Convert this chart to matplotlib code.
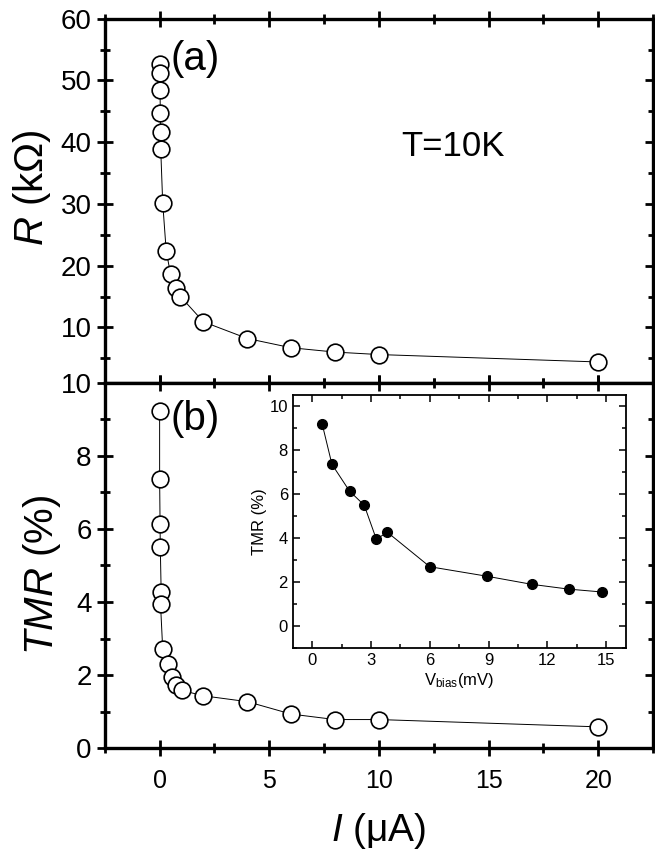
import matplotlib
matplotlib.use("Agg")
import matplotlib.pyplot as plt
from matplotlib.ticker import MultipleLocator

plt.rcParams['font.family'] = ['Liberation Sans', 'DejaVu Sans']
plt.rcParams['mathtext.fontset'] = 'custom'
plt.rcParams['mathtext.rm'] = 'Liberation Sans'
plt.rcParams['mathtext.it'] = 'Liberation Sans:italic'

# Panel (a): resistance vs current
I_a = [0.0, 0.01, 0.02, 0.03, 0.04, 0.05, 0.14, 0.3, 0.5, 0.75, 0.95, 2, 4, 6, 8, 10, 20]
R_a = [52.7, 51.2, 48.4, 44.8, 41.7, 38.9, 30.2, 22.4, 18.6, 16.4, 15.0, 10.9, 8.2, 6.7, 6.0, 5.6, 4.4]

# Panel (b): TMR vs current
I_b = [0.0, 0.0, 0.02, 0.03, 0.07, 0.04, 0.14, 0.37, 0.55, 0.73, 1.0, 2, 4, 6, 8, 10, 20]
TMR_b = [9.23, 7.38, 6.14, 5.52, 4.28, 3.95, 2.72, 2.30, 1.95, 1.72, 1.58, 1.43, 1.27, 0.93, 0.78, 0.78, 0.58]

# Inset: TMR vs bias voltage
V_bias = [0.5, 1.0, 1.9, 2.65, 3.27, 3.83, 6.0, 8.9, 11.2, 13.1, 14.8]
TMR_v = [9.2, 7.36, 6.14, 5.5, 3.95, 4.27, 2.7, 2.27, 1.9, 1.68, 1.55]

fig = plt.figure(figsize=(6.55, 8.51), dpi=100)
L, Rr = 0.160, 0.997
axa = fig.add_axes([L, 0.550, Rr - L, 0.978 - 0.550])
axb = fig.add_axes([L, 0.121, Rr - L, 0.550 - 0.121], sharex=axa)

mk = dict(marker='o', markersize=12, markerfacecolor='white', markeredgecolor='black',
          markeredgewidth=1.2, color='black', linewidth=0.7)
axa.plot(I_a, R_a, **mk)
axb.plot(I_b, TMR_b, **mk)

for ax in (axa, axb):
    for s in ax.spines.values():
        s.set_linewidth(2.4)
    ax.set_xlim(-2.5, 22.5)
    ax.xaxis.set_major_locator(MultipleLocator(5))
    ax.xaxis.set_minor_locator(MultipleLocator(2.5))
    ax.tick_params(which='major', direction='inout', length=12, width=2, top=True, right=True)
    ax.tick_params(which='minor', direction='inout', length=7, width=2, top=True, right=True)
    ax.tick_params(axis='y', which='both', labelsize=20)
    ax.tick_params(axis='x', labelsize=18, pad=9)

axa.set_ylim(1, 60)
axa.yaxis.set_major_locator(MultipleLocator(10))
axa.yaxis.set_minor_locator(MultipleLocator(5))
axa.tick_params(axis='x', labelbottom=False)

axb.set_ylim(0, 10)
axb.yaxis.set_major_locator(MultipleLocator(2))
axb.yaxis.set_minor_locator(MultipleLocator(1))

axa.set_ylabel(r'$R$ (kΩ)', fontsize=29, va='center')
axb.set_ylabel(r'$TMR$ (%)', fontsize=29, va='center')
axb.set_xlabel(r'$I$ (μA)', fontsize=28, va='center')
axa.yaxis.set_label_coords(-0.132, 0.536)
axb.yaxis.set_label_coords(-0.114, 0.474)
axb.xaxis.set_label_coords(0.5, -0.228)

axa.text(0.5, 53.5, '(a)', fontsize=29, ha='left', va='center')
axb.text(0.5, 9.0, '(b)', fontsize=29, ha='left', va='center')
axa.text(11.0, 39.3, 'T=10K', fontsize=25, ha='left', va='center')

# Inset
axi = fig.add_axes([0.447, 0.2385, 0.508, 0.297])
axi.plot(V_bias, TMR_v, marker='o', markersize=7, color='black', markerfacecolor='black',
         linewidth=0.7)
axi.set_xlim(-1, 16)
axi.set_ylim(-1, 10.5)
axi.xaxis.set_major_locator(MultipleLocator(3))
axi.xaxis.set_minor_locator(MultipleLocator(1.5))
axi.yaxis.set_major_locator(MultipleLocator(2))
axi.yaxis.set_minor_locator(MultipleLocator(1))
for s in axi.spines.values():
    s.set_linewidth(1.3)
axi.tick_params(which='major', direction='in', length=5, width=1.1, top=True, right=True, labelsize=12)
axi.tick_params(which='minor', direction='in', length=3, width=1.1, top=True, right=True)
axi.set_ylabel('TMR (%)', fontsize=12, labelpad=2)
axi.set_xlabel(r'V$_{\rm bias}$(mV)', fontsize=12, labelpad=2)

fig.savefig('out.png', dpi=100)
